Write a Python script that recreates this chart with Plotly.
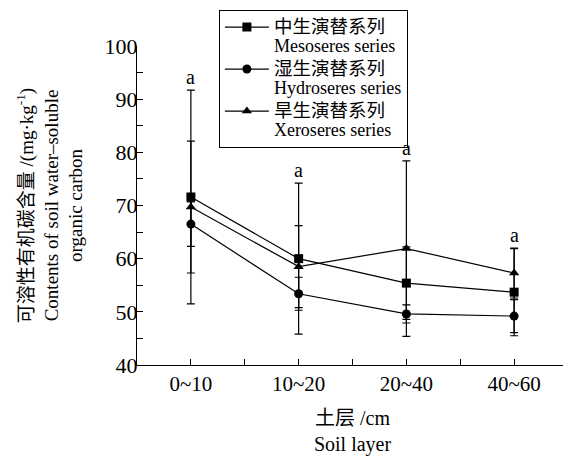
import plotly.graph_objects as go

categories = ["0~10", "10~20", "20~40", "40~60"]
series_cn = ["中生演替系列", "湿生演替系列", "旱生演替系列"]
series_en = ["Mesoseres series", "Hydroseres series", "Xeroseres series"]
meso = [71.6, 60.0, 55.4, 53.7]
meso_err = [20.1, 14.2, 6.8, 8.2]
hydro = [66.5, 53.4, 49.6, 49.2]
hydro_err = [4.2, 3.1, 1.7, 3.1]
xero = [69.7, 58.5, 61.9, 57.3]
xero_err = [12.4, 7.7, 16.5, 4.7]
sig_labels = ["a", "a", "a", "a"]

FONT = "Liberation Serif, Times New Roman, Noto Sans CJK SC, serif"
x = list(range(len(categories)))


def legend_name(cn, en):
    return (f'<span style="font-size:18.5px">{cn}</span><br>'
            f'<span style="font-size:18px">{en}</span>')


fig = go.Figure()
for cn, en, vals, errs, sym in [
    (series_cn[0], series_en[0], meso, meso_err, "square"),
    (series_cn[1], series_en[1], hydro, hydro_err, "circle"),
    (series_cn[2], series_en[2], xero, xero_err, "triangle-up"),
]:
    fig.add_trace(go.Scatter(
        x=x, y=vals, name=legend_name(cn, en), mode="lines+markers",
        line=dict(color="black", width=1.2),
        marker=dict(symbol=sym, size=9, color="black"),
        error_y=dict(type="data", array=errs, visible=True,
                     color="black", thickness=1.2, width=4),
    ))

# significance letters above the highest error bar
tops = [max(m + me, h + he, xx + xe) for m, me, h, he, xx, xe in
        zip(meso, meso_err, hydro, hydro_err, xero, xero_err)]
for xi, t, lab in zip(x, tops, sig_labels):
    fig.add_annotation(x=xi, y=t, text=lab, showarrow=False,
                       yanchor="bottom", yshift=0,
                       font=dict(family=FONT, size=20, color="black"))

# the page adds an 8px body margin, so the figure is sized to fit the window
fig.update_layout(
    width=563, height=448,
    margin=dict(l=129, r=3, t=37, b=91),
    paper_bgcolor="white", plot_bgcolor="white",
    font=dict(family=FONT, size=19, color="black"),
    showlegend=True,
    legend=dict(
        x=0.19, y=1.11, xanchor="left", yanchor="top",
        bordercolor="black", borderwidth=1, bgcolor="white",
        font=dict(family=FONT, size=15, color="black"),
        valign="top", tracegroupgap=0, itemwidth=44,
    ),
    xaxis=dict(
        range=[-0.5, 3.5], tickmode="array", tickvals=x, ticktext=categories,
        ticks="inside", ticklen=6, tickcolor="black", tickwidth=1,
        minor=dict(tickmode="array", tickvals=[0.5, 1.5, 2.5, 3.5],
                   ticks="inside", ticklen=6, tickcolor="black", tickwidth=1),
        showline=True, linecolor="black", linewidth=1.2,
        showgrid=False, zeroline=False,
        tickfont=dict(family=FONT, size=21),
        title=dict(text="土层 /cm<br>Soil layer", standoff=18,
                   font=dict(family=FONT, size=20)),
    ),
    yaxis=dict(
        range=[40, 100], tickmode="linear", tick0=40, dtick=10,
        ticks="inside", ticklen=6, tickcolor="black", tickwidth=1,
        minor=dict(tick0=45, dtick=10, ticks="inside", ticklen=6,
                   tickcolor="black", tickwidth=1),
        showline=True, linecolor="black", linewidth=1.2,
        showgrid=False, zeroline=False,
        tickfont=dict(family=FONT, size=22),
        ticklabelstandoff=-6,
        title=dict(text="可溶性有机碳含量 /(mg·kg<sup>-1</sup>)<br>Contents of soil water–soluble<br>organic carbon",
                   standoff=16, font=dict(family=FONT, size=19)),
    ),
)

fig.write_html("out.html")
